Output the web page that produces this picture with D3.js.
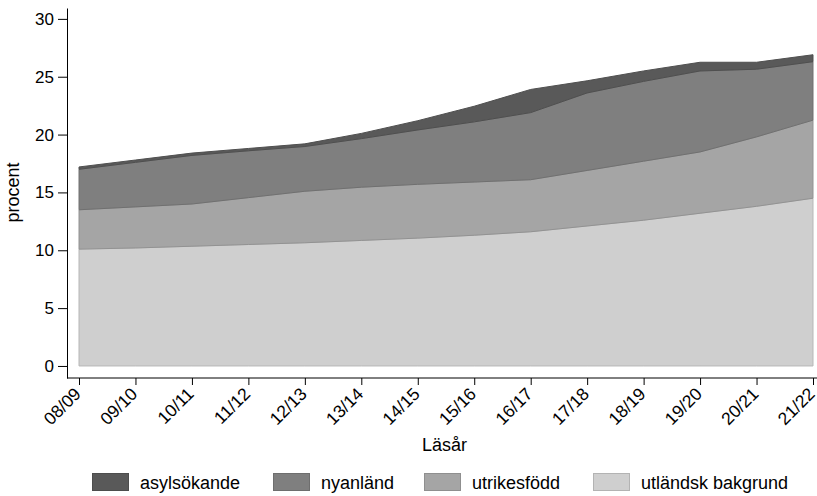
<!DOCTYPE html>
<html>
<head>
<meta charset="utf-8">
<script src="https://cdn.jsdelivr.net/npm/d3@7"></script>
<style>
  body { margin: 0; background: #fff; }
  svg { font-family: "Liberation Sans", Arial, sans-serif; }
</style>
</head>
<body>
<script>
// school years on the x axis
const years = ['08/09', '09/10', '10/11', '11/12', '12/13', '13/14', '14/15',
    '15/16', '16/17', '17/18', '18/19', '19/20', '20/21', '21/22']

// per-group share (procent), stacked bottom to top
const utlandskBakgrund = [10.1, 10.2, 10.35, 10.5, 10.65, 10.85, 11.05, 11.3, 11.6, 12.1, 12.6, 13.2, 13.8, 14.5]
const utrikesfodd = [3.4, 3.55, 3.65, 4.05, 4.45, 4.6, 4.65, 4.6, 4.5, 4.8, 5.1, 5.3, 6.0, 6.75]
const nyanland = [3.5, 3.85, 4.2, 4.05, 3.87, 4.2, 4.7, 5.2, 5.8, 6.7, 6.9, 7.0, 5.85, 5.05]
const asylsokande = [0.2, 0.2, 0.2, 0.2, 0.23, 0.45, 0.8, 1.35, 2.0, 1.05, 0.9, 0.75, 0.6, 0.6]

const yTicks = [0, 5, 10, 15, 20, 25, 30]

const seriesKeys = ['utländsk bakgrund', 'utrikesfödd', 'nyanländ', 'asylsökande']
const seriesColors = ['#cfcfcf', '#a5a5a5', '#7f7f7f', '#595959']
const legendOrder = ['asylsökande', 'nyanländ', 'utrikesfödd', 'utländsk bakgrund']

const W = 817, H = 496

const table = years.map((yr, i) => ({
    year: yr,
    'utländsk bakgrund': utlandskBakgrund[i],
    'utrikesfödd': utrikesfodd[i],
    'nyanländ': nyanland[i],
    'asylsökande': asylsokande[i],
}))

const stacked = d3.stack().keys(seriesKeys)(table)

const x = d3.scalePoint().domain(years).range([79, 813])
const y = d3.scaleLinear().domain([-1.04, 30.94]).range([378, 8])
const color = d3.scaleOrdinal(seriesKeys, seriesColors)

const svg = d3.select('body').append('svg')
    .attr('width', W)
    .attr('height', H)

const area = d3.area()
    .x(d => x(d.data.year))
    .y0(d => y(d[0]))
    .y1(d => y(d[1]))

svg.append('g')
    .selectAll('path')
    .data(stacked)
    .join('path')
    .attr('d', area)
    .attr('fill', d => color(d.key))
    .attr('stroke', d => d3.color(color(d.key)).darker(0.35))
    .attr('stroke-width', 1)
    .attr('stroke-linejoin', 'round')

const font = '"Liberation Sans", Arial, sans-serif'

// y axis
const yAxis = svg.append('g')
    .attr('transform', 'translate(67,0)')
    .call(d3.axisLeft(y).tickValues(yTicks).tickSizeOuter(0).tickSizeInner(9).tickPadding(4))
yAxis.select('.domain').attr('stroke', '#000')
yAxis.selectAll('text').attr('font-size', 17).attr('fill', '#000')
    .attr('font-family', font)

// x axis
const xAxis = svg.append('g')
    .attr('transform', 'translate(0,378)')
    .call(d3.axisBottom(x).tickSizeOuter(0).tickSizeInner(7))
xAxis.select('.domain').remove()
xAxis.append('line')
    .attr('x1', 67).attr('x2', W)
    .attr('stroke', '#000')
xAxis.selectAll('.tick text')
    .attr('font-size', 17.5)
    .attr('fill', '#000')
    .attr('font-family', font)
    .attr('text-anchor', 'end')
    .attr('dy', null)
    .attr('y', 0)
    .attr('transform', 'translate(2.5,17) rotate(-45)')

svg.append('text')
    .attr('x', 444.5).attr('y', 451)
    .attr('text-anchor', 'middle')
    .attr('font-size', 18)
    .text('Läsår')

svg.append('text')
    .attr('transform', 'translate(19,192.5) rotate(-90)')
    .attr('text-anchor', 'middle')
    .attr('font-size', 18)
    .text('procent')

// legend
const legendX = [92, 273, 424, 593]
const legend = svg.append('g')
    .selectAll('g')
    .data(legendOrder)
    .join('g')
    .attr('transform', (d, i) => `translate(${legendX[i]},473)`)
legend.append('rect')
    .attr('x', 0.5).attr('y', 0.5)
    .attr('width', 36).attr('height', 17)
    .attr('fill', d => color(d))
    .attr('stroke', d => d3.color(color(d)).darker(0.4))
legend.append('text')
    .attr('x', 48).attr('y', 15.5)
    .attr('font-size', 18)
    .text(d => d)
</script>
</body>
</html>
